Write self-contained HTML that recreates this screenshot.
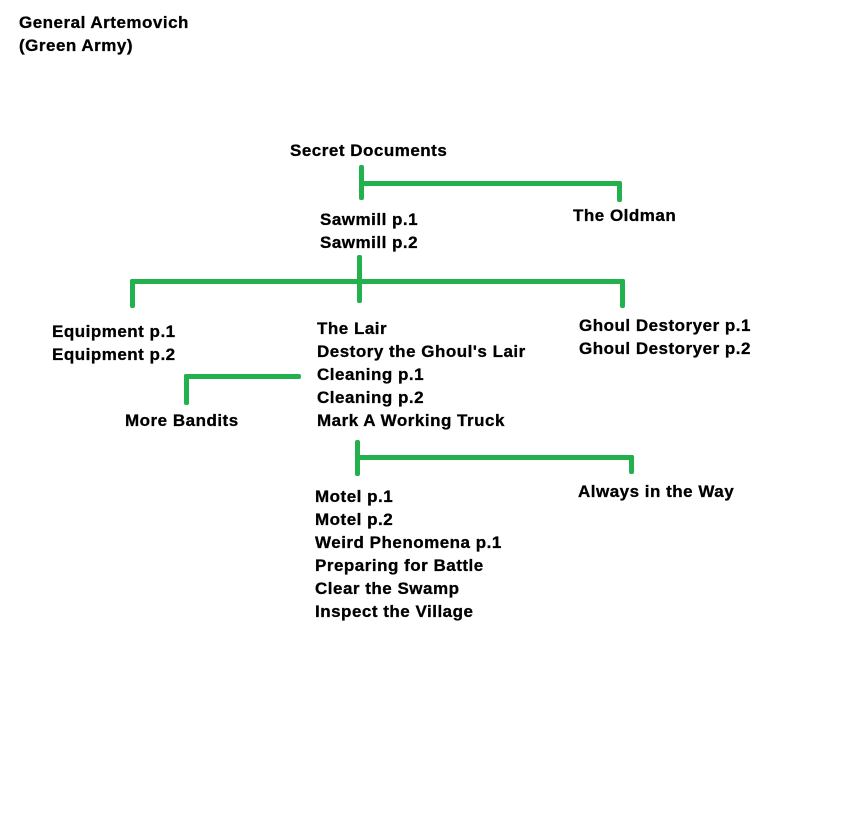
<!DOCTYPE html>
<html><head><style>
body{margin:0;width:851px;height:838px;background:#fff;position:relative;overflow:hidden;font-family:"Liberation Sans",Arial,sans-serif;font-weight:bold;font-size:17px;color:#000}
.t{position:absolute;line-height:23px;white-space:nowrap;letter-spacing:0.5px;-webkit-text-stroke:0.3px #000}
.l{position:absolute;background:#22b14c;border-radius:2px}
</style></head><body>
<div class="t" style="left:19px;top:11px">General Artemovich<br>(Green Army)</div>
<div class="t" style="left:290px;top:139px">Secret Documents</div>
<div class="t" style="left:320px;top:208px">Sawmill p.1<br>Sawmill p.2</div>
<div class="t" style="left:573px;top:204px">The Oldman</div>
<div class="t" style="left:52px;top:320px">Equipment p.1<br>Equipment p.2</div>
<div class="t" style="left:317px;top:317px">The Lair<br>Destory the Ghoul's Lair<br>Cleaning p.1<br>Cleaning p.2<br>Mark A Working Truck</div>
<div class="t" style="left:579px;top:314px">Ghoul Destoryer p.1<br>Ghoul Destoryer p.2</div>
<div class="t" style="left:125px;top:409px">More Bandits</div>
<div class="t" style="left:578px;top:480px">Always in the Way</div>
<div class="t" style="left:315px;top:485px">Motel p.1<br>Motel p.2<br>Weird Phenomena p.1<br>Preparing for Battle<br>Clear the Swamp<br>Inspect the Village</div>

<div class="l" style="left:359px;top:165px;width:5px;height:35px"></div>
<div class="l" style="left:359px;top:181px;width:262px;height:5px"></div>
<div class="l" style="left:617px;top:181px;width:5px;height:21px"></div>

<div class="l" style="left:357px;top:255px;width:5px;height:48px"></div>
<div class="l" style="left:130px;top:279px;width:495px;height:5px"></div>
<div class="l" style="left:130px;top:279px;width:5px;height:29px"></div>
<div class="l" style="left:620px;top:279px;width:5px;height:29px"></div>

<div class="l" style="left:184px;top:374px;width:117px;height:5px"></div>
<div class="l" style="left:184px;top:374px;width:5px;height:31px"></div>

<div class="l" style="left:355px;top:440px;width:5px;height:36px"></div>
<div class="l" style="left:355px;top:455px;width:279px;height:5px"></div>
<div class="l" style="left:629px;top:455px;width:5px;height:19px"></div>
</body></html>
